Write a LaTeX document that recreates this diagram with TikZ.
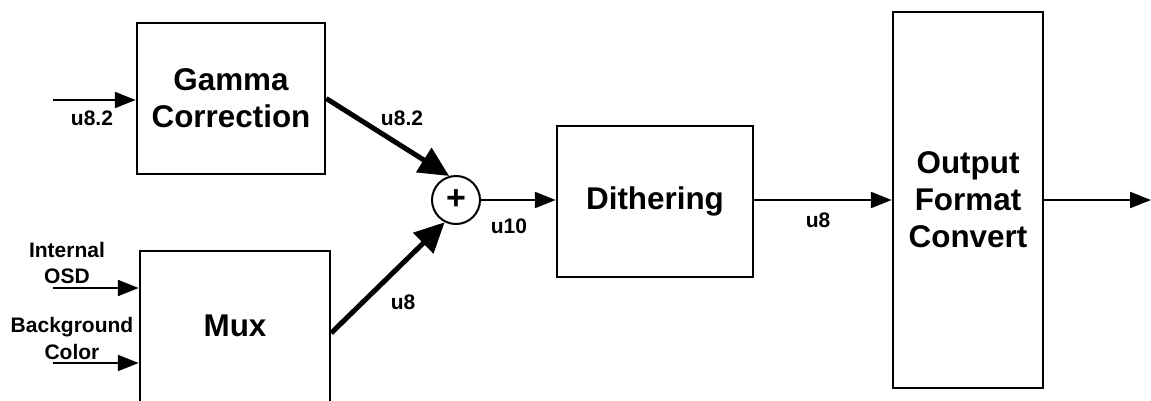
\documentclass[tikz,border=0pt]{standalone}
\usepackage{fontspec}
\setmainfont{Liberation Sans}
\usetikzlibrary{arrows.meta}
\tikzset{
  blk/.style={draw, line width=2.5pt, inner sep=0pt, align=center, font=\bfseries\fontsize{31.4}{37}\selectfont},
  lbl/.style={inner sep=0pt, align=center, font=\bfseries\fontsize{21}{26.5}\selectfont},
  thin/.style={line width=2.4pt, -{Triangle[length=21pt,width=16pt]}},
  thick/.style={line width=5pt, -{Triangle[length=30pt,width=28pt]}},
}
\begin{document}
\begin{tikzpicture}[x=1pt,y=-1pt]
\useasboundingbox (0,0) rectangle (1151,401);
\clip (0,0) rectangle (1151,401);
% blocks
\node[blk, minimum width=188pt, minimum height=151pt] (gamma) at (231,98.5) {Gamma\\Correction};
\node[blk, minimum width=190pt, minimum height=170pt, text depth=20pt] (mux) at (235,336) {Mux};
\node[blk, minimum width=196pt, minimum height=151pt] (dith) at (655,201.5) {Dithering};
\node[blk, minimum width=150pt, minimum height=376pt] (out) at (968,200) {Output\\Format\\Convert};
\node[draw, circle, line width=2pt, minimum size=48pt, inner sep=0pt, font=\bfseries\fontsize{34}{34}\selectfont] (plus) at (456,200) {+};
% input coordinates
\coordinate (in1) at (53,100);
\coordinate (in2) at (53,288);
\coordinate (in3) at (53,363);
\coordinate (outend) at (1151,200);
% connectors
\draw[thin] (in1) -- (in1 -| gamma.west);
\draw[thin] (in2) -- (in2 -| mux.west);
\draw[thin] (in3) -- (in3 -| mux.west);
\draw[thick] (gamma.east) -- (plus.106);
\draw[thick] ([yshift=3pt]mux.east) -- (plus.243);
\draw[thin] (plus.east) -- (plus.east -| dith.west);
\draw[thin] (dith.east |- plus.east) -- (out.west);
\draw[thin] (out.east) -- (outend);
% labels
\node[lbl] (l1) at (92,118) {u8.2};
\node[lbl] (l2) at (67,263) {Internal\\OSD};
\node[lbl] (l3) at (72,338.5) {Background\\Color};
\node[lbl] (l4) at (402,118) {u8.2};
\node[lbl] (l5) at (403,302) {u8};
\node[lbl] (l6) at (509,226) {u10};
\node[lbl] (l7) at (818,220) {u8};
\end{tikzpicture}
\end{document}
